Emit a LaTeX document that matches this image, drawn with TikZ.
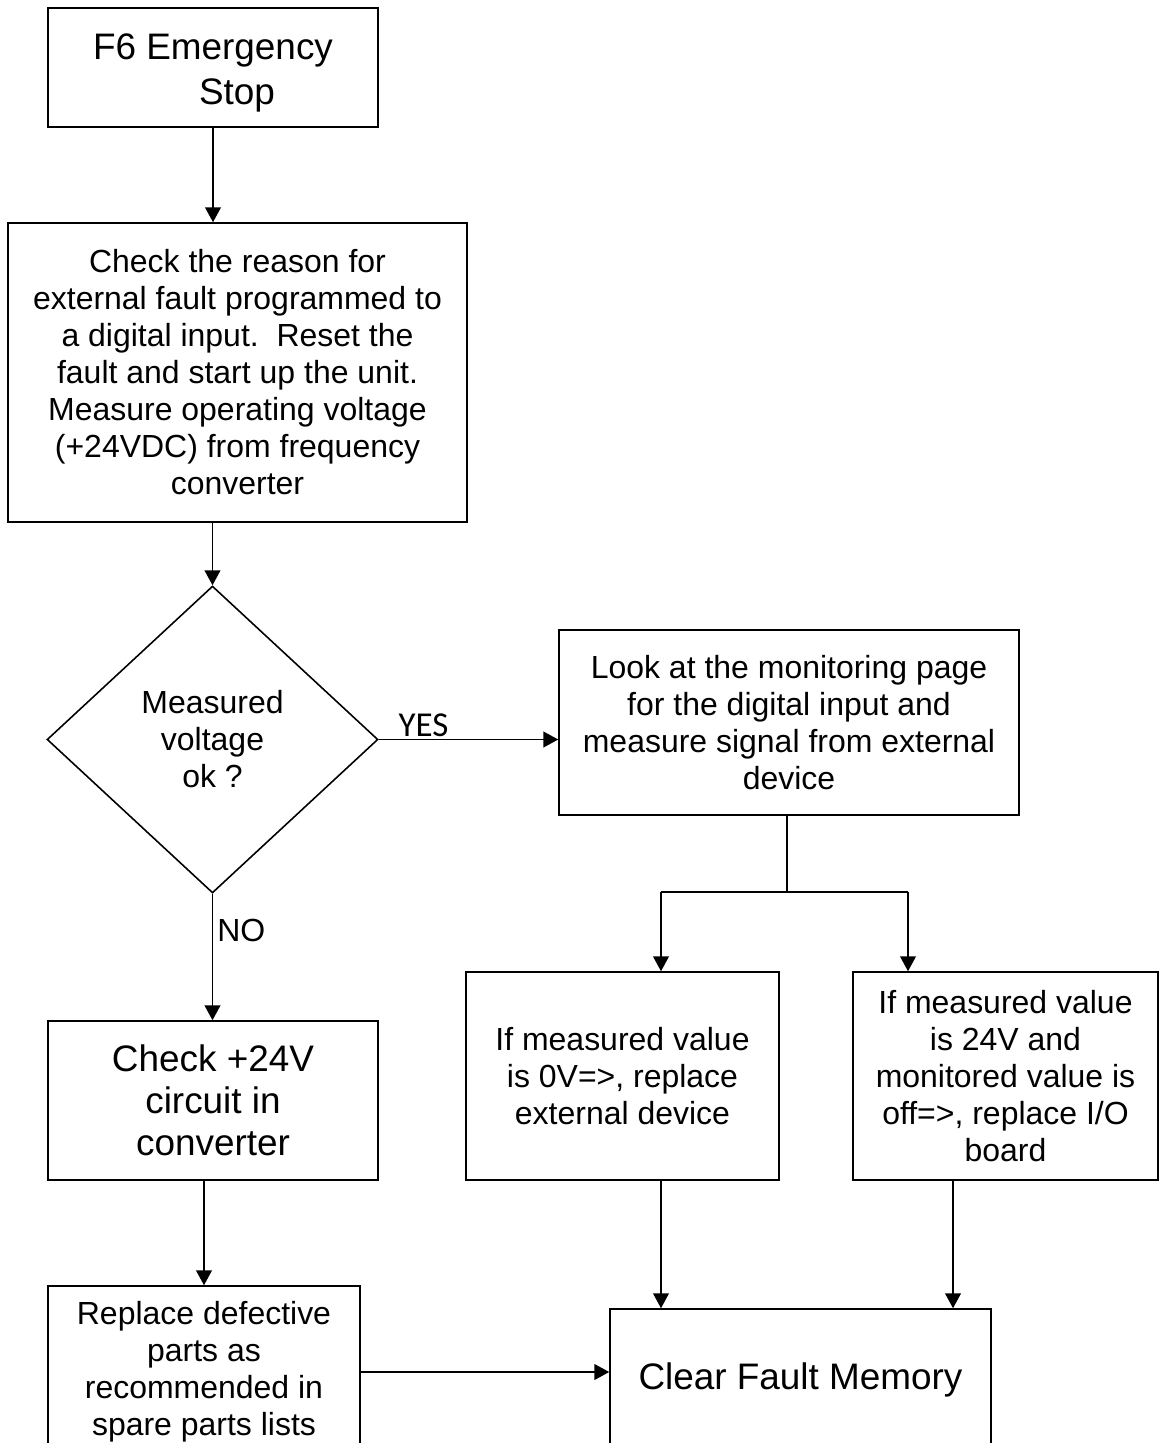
\documentclass[tikz,border=0pt]{standalone}
\usepackage{fontspec}
\setmainfont{Liberation Sans}
\newfontfamily\yesfont{Carlito}
\usepackage{tikz}
\usetikzlibrary{arrows.meta,positioning,shapes.geometric}

\begin{document}
\begin{tikzpicture}[x=0.02cm,y=-0.02cm,line width=0.9pt,>={Triangle[length=8.5pt,width=9pt]}]
  \tikzset{flow box/.style={draw,rectangle,align=center,inner sep=0pt,minimum width=#1},
           small text/.style={font=\fontsize{18.2}{21.05}\selectfont},
           big text/.style={font=\fontsize{21}{23.9}\selectfont}}

  \useasboundingbox (0,0) rectangle (1159,1443);
  \clip (0,0) rectangle (1159,1443);

  \node (A) [flow box = 6.6cm, minimum height=2.38cm, font=\fontsize{21}{25.6}\selectfont] at (213,67.5) {\rule{0pt}{21pt}F6 Emergency\\\hspace*{1.3em}Stop};
  \node (B) [flow box = 9.18cm, minimum height=5.98cm, small text] at (237.5,372.5) {Check the reason for\\external fault programmed to\\a digital input.\ \ Reset the\\fault and start up the unit.\\Measure operating voltage\\(+24VDC) from frequency\\converter};
  \node (C) [draw, diamond, minimum width=6.62cm, minimum height=6.14cm, inner sep=0pt, align=center, small text] at (212.5,739.5) {Measured\\voltage\\ok ?};
  \node (D) [flow box = 9.2cm, minimum height=3.7cm, small text] at (789,722.5) {Look at the monitoring page\\for the digital input and\\measure signal from external\\device};
  \node (E) [flow box = 6.6cm, minimum height=3.18cm, big text] at (213,1100.5) {Check +24V\\circuit in\\converter};
  \node (F) [flow box = 6.26cm, minimum height=4.16cm, small text] at (622.5,1076) {If measured value\\is 0V=>, replace\\external device};
  \node (G) [flow box = 6.1cm, minimum height=4.16cm, small text] at (1005.5,1076) {If measured value\\is 24V and\\monitored value is\\off=>, replace I/O\\board};
  \node (H) [flow box = 6.24cm, minimum height=3.44cm, small text] at (204,1372) {Replace defective\\parts as\\recommended in\\spare parts lists};
  \node (M) [flow box = 7.62cm, minimum height=2.84cm, big text] at (800.5,1380) {Clear Fault Memory};

  \draw[->] (A.south) -- (A.south |- B.north);
  \draw[->] (C.north |- B.south) -- (C.north);
  \draw[->] (C.east) -- (C.east -| D.west) node[pos=0.25, above, inner sep=1pt, font=\yesfont\fontsize{19.9}{22}\selectfont] {YES};
  \draw[->] (C.south) -- (C.south |- E.north) node[pos=0.29, right, inner sep=2.3pt, small text] {NO};
  \draw[->] (H.north |- E.south) -- (H.north);
  \draw[->] (H.east) -- (H.east -| M.west);

  % split below the monitoring box
  \coordinate (P) at (787,892);
  \coordinate (P1) at (661,892);
  \coordinate (P2) at (908,892);
  \draw (P |- D.south) -- (P);
  \draw (P1) -- (P2);
  \draw[->] (P1) -- (P1 |- F.north);
  \draw[->] (P2) -- (P2 |- G.north);
  \draw[->] (P1 |- F.south) -- (P1 |- M.north);
  \draw[->] ([xshift=-1.05cm]G.south) -- ([xshift=-1.05cm]G.south |- M.north);
\end{tikzpicture}
\end{document}
